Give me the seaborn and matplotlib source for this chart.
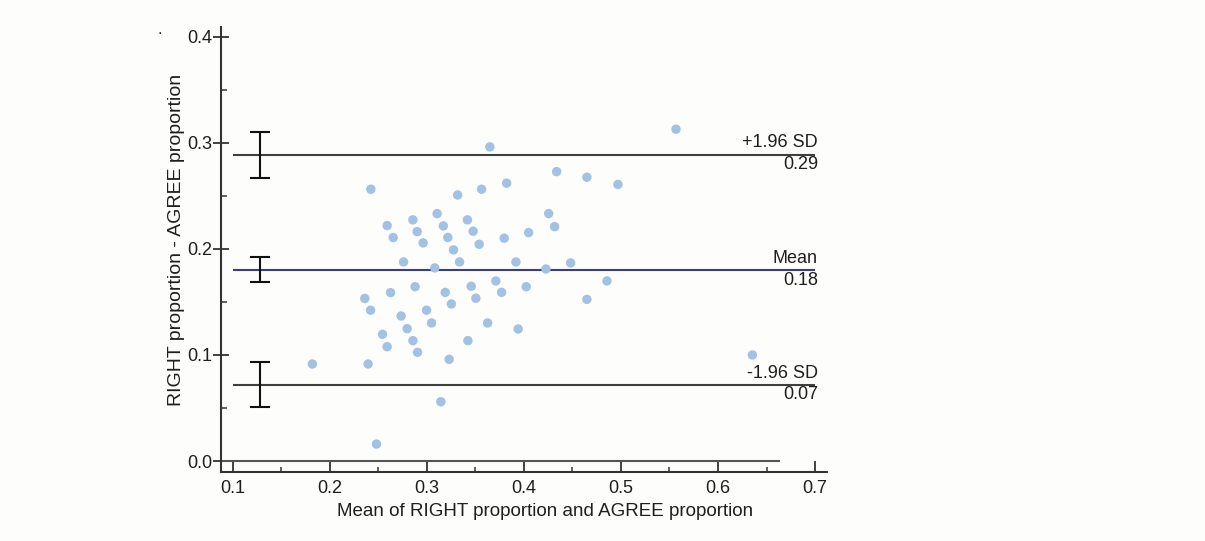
import numpy as np
import pandas as pd
import matplotlib
matplotlib.use("Agg")
import matplotlib.pyplot as plt
from matplotlib.ticker import MultipleLocator
import seaborn as sns

# ---- data ----
mean_vals = [0.182, 0.2395, 0.2481, 0.2423, 0.2361, 0.2420, 0.2543, 0.2591, 0.2591, 0.2653,
             0.2626, 0.2735, 0.2760, 0.2797, 0.2856, 0.2900, 0.2962, 0.2879, 0.2856, 0.2904,
             0.2997, 0.3048, 0.3082, 0.3106, 0.3170, 0.3216, 0.3144, 0.3230, 0.3189, 0.3253,
             0.3317, 0.3275, 0.3337, 0.3418, 0.3477, 0.3539, 0.3457, 0.3505, 0.3423, 0.3626,
             0.3649, 0.3564, 0.3711, 0.3770, 0.3797, 0.3822, 0.3918, 0.3941, 0.4048, 0.4024,
             0.4255, 0.4316, 0.4227, 0.4337, 0.4481, 0.4649, 0.4649, 0.4856, 0.4969, 0.5567,
             0.6354]
diff_vals = [0.0915, 0.0915, 0.0160, 0.2563, 0.1533, 0.1422, 0.1195, 0.1078, 0.2220, 0.2107,
             0.1588, 0.1368, 0.1877, 0.1248, 0.2274, 0.2163, 0.2057, 0.1644, 0.1135, 0.1025,
             0.1422, 0.1302, 0.1821, 0.2333, 0.2217, 0.2108, 0.0559, 0.0959, 0.1590, 0.1481,
             0.2509, 0.1991, 0.1877, 0.2274, 0.2167, 0.2044, 0.1648, 0.1535, 0.1135, 0.1302,
             0.2962, 0.2563, 0.1698, 0.1591, 0.2101, 0.2620, 0.1877, 0.1245, 0.2154, 0.1644,
             0.2333, 0.2210, 0.1811, 0.2729, 0.1868, 0.2676, 0.1524, 0.1698, 0.2608, 0.3129,
             0.1000]

limit_names = ["+1.96 SD", "Mean", "-1.96 SD"]
limit_values = [0.289, 0.180, 0.0717]
limit_labels = ["0.29", "0.18", "0.07"]
ci_low = [0.267, 0.169, 0.051]
ci_high = [0.310, 0.192, 0.093]

df = pd.DataFrame({"mean": mean_vals, "diff": diff_vals})

sns.set_style("ticks")
plt.rcParams["font.family"] = ["Liberation Sans", "DejaVu Sans"]

bg = "#fdfdfb"
fig = plt.figure(figsize=(12.05, 5.41), dpi=100, facecolor=bg)
ax = fig.add_axes([0.1834, 0.128, 0.503, 0.822])
ax.set_facecolor(bg)

sns.scatterplot(data=df, x="mean", y="diff", color="#a3c1e3", s=46,
                edgecolor="none", ax=ax, zorder=3)

# limits of agreement
for name, val, lab in zip(limit_names, limit_values, limit_labels):
    col = "#3c3b86" if name == "Mean" else "#3f3f3f"
    ax.hlines(val, 0.1, 0.7, color=col, lw=1.5, zorder=2)
    ax.annotate(name, (0.703, val), xytext=(0, 2.5), textcoords="offset points",
                ha="right", va="bottom", fontsize=13, color="#1e1e1e")
    ax.annotate(lab, (0.703, val), xytext=(0, -1), textcoords="offset points",
                ha="right", va="top", fontsize=13, color="#1e1e1e")

# confidence intervals for the limits
ci_x = [0.128] * 3
ci_mid = [(lo + hi) / 2 for lo, hi in zip(ci_low, ci_high)]
ci_err = [[m - lo for m, lo in zip(ci_mid, ci_low)], [hi - m for m, hi in zip(ci_mid, ci_high)]]
ax.errorbar(ci_x, ci_mid, yerr=ci_err, fmt="none", ecolor="#111111",
            elinewidth=1.5, capsize=7.2, capthick=1.5, zorder=4)

# zero line
ax.hlines(0.0, 0.0879, 0.664, color="#555555", lw=1.5, zorder=2)

ax.set_xlim(0.0879, 0.7124)
ax.set_ylim(-0.0101, 0.4092)
ax.xaxis.set_major_locator(MultipleLocator(0.1))
ax.xaxis.set_minor_locator(MultipleLocator(0.05))
ax.yaxis.set_major_locator(MultipleLocator(0.1))
ax.yaxis.set_minor_locator(MultipleLocator(0.05))
ax.xaxis.set_major_formatter(plt.FuncFormatter(lambda v, p: f"{v:.1f}"))
ax.yaxis.set_major_formatter(plt.FuncFormatter(lambda v, p: f"{v:.1f}"))

sns.despine(ax=ax)
for sp in ["left", "bottom"]:
    ax.spines[sp].set_linewidth(1.5)
    ax.spines[sp].set_color("#333333")

ax.tick_params(axis="x", which="major", direction="in", length=7.7, width=1.3,
               pad=6, labelsize=13, colors="#333333", labelcolor="#1e1e1e")
ax.tick_params(axis="x", which="minor", direction="in", length=3.5, width=1.1, colors="#333333")
ax.tick_params(axis="y", which="major", direction="inout", length=11, width=1.3,
               pad=1, labelsize=13, colors="#333333", labelcolor="#1e1e1e")
ax.tick_params(axis="y", which="minor", direction="in", length=4.3, width=1.1, colors="#333333")

ax.set_xlabel("Mean of RIGHT proportion and AGREE proportion", fontsize=13.5, color="#1e1e1e")
ax.set_ylabel("RIGHT proportion - AGREE proportion", fontsize=14, color="#1e1e1e")
ax.xaxis.set_label_coords(0.535, -0.07)
ax.yaxis.set_label_coords(-0.06, 0.521)

fig.text(160 / 1205, 1 - 30 / 541, ".", fontsize=12, color="#222222", ha="center", va="center")

plt.savefig("out.png", dpi=100, facecolor=bg)
